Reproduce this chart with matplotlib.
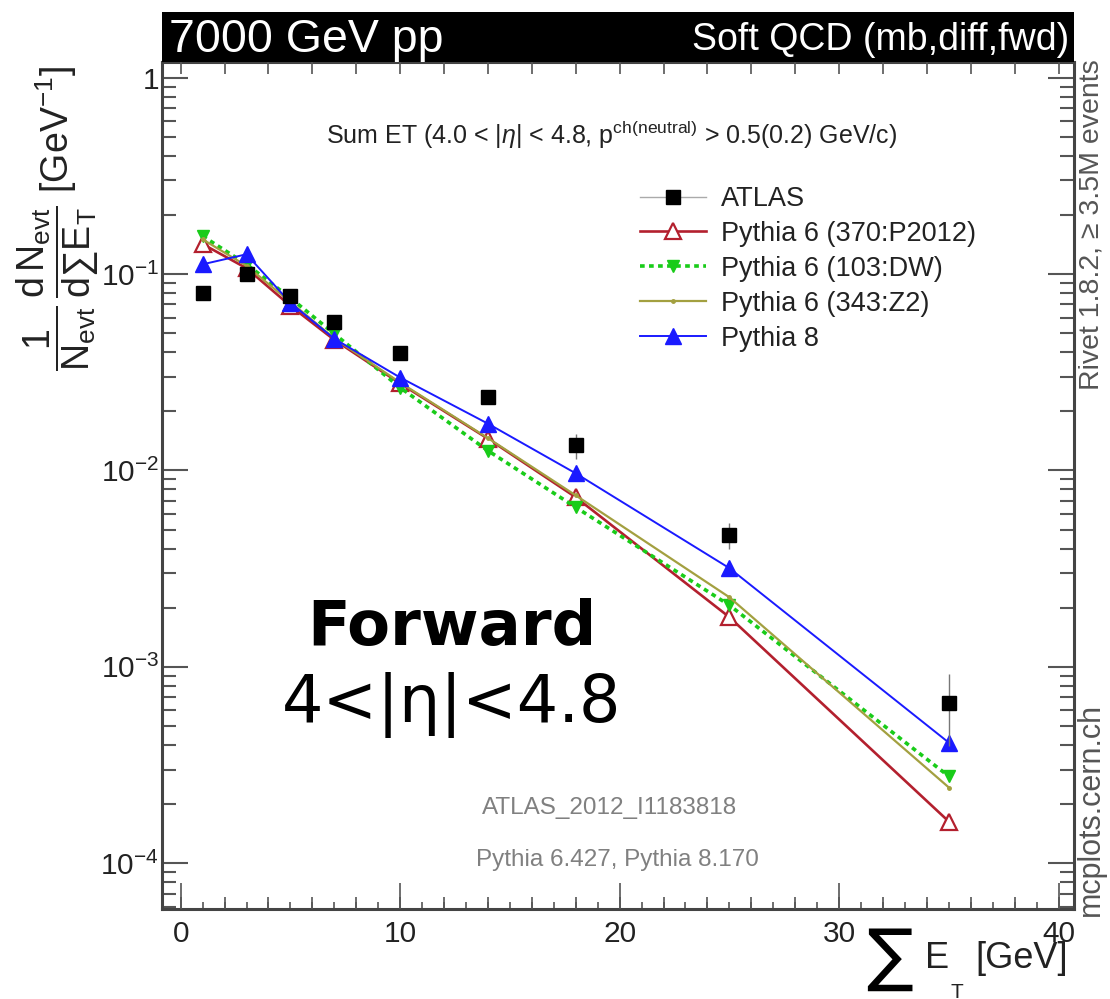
import matplotlib
matplotlib.use("Agg")
import matplotlib.pyplot as plt
from matplotlib.lines import Line2D
from matplotlib.ticker import LogLocator, NullFormatter, FixedLocator, MultipleLocator
import numpy as np

plt.rcParams['font.family'] = ['Liberation Sans', 'DejaVu Sans']
plt.rcParams['mathtext.fontset'] = 'custom'
plt.rcParams['mathtext.rm'] = 'Liberation Sans'
plt.rcParams['mathtext.it'] = 'Liberation Sans:italic'
plt.rcParams['mathtext.bf'] = 'Liberation Sans:bold'

# ---- data ----
sumet = [1, 3, 5, 7, 10, 14, 18, 25, 35]
atlas = [0.080, 0.100, 0.077, 0.057, 0.0397, 0.0237, 0.0134, 0.00468, 0.000656]
atlas_err = [0.002, 0.002, 0.0015, 0.001, 0.0008, 0.0006, 0.002, 0.0007, 0.00026]
p2012 = [0.142, 0.107, 0.0688, 0.0462, 0.0277, 0.0145, 0.0073, 0.00179, 0.000163]
dw = [0.156, 0.112, 0.0755, 0.0496, 0.0264, 0.0126, 0.00649, 0.00206, 0.000277]
z2 = [0.150, 0.110, 0.072, 0.047, 0.0280, 0.0146, 0.00746, 0.00226, 0.000243]
py8 = [0.112, 0.126, 0.0713, 0.0468, 0.0297, 0.0173, 0.00966, 0.00318, 0.000411]

labels = ["ATLAS", "Pythia 6 (370:P2012)", "Pythia 6 (103:DW)",
          "Pythia 6 (343:Z2)", "Pythia 8"]

W, H = 1110, 999
fig = plt.figure(figsize=(W / 100, H / 100), dpi=100)

def fx(px):
    return px / W

def fy(py):
    return 1 - py / H

ax_l, ax_r, ax_t, ax_b = 162, 1074, 62, 909
ax = fig.add_axes([fx(ax_l), fy(ax_b), fx(ax_r - ax_l), (ax_b - ax_t) / H])

c_red = '#b3202e'
c_green = '#19cc19'
c_olive = '#a3a040'
c_blue = '#1a1aff'

ax.plot(sumet, p2012, color=c_red, lw=1.9, marker='^', ms=12, mfc='white',
        mec=c_red, mew=1.6, zorder=3)
ax.plot(sumet, dw, color=c_green, lw=2.6, ls=(0, (1.3, 1.2)), marker='v', ms=9,
        mfc=c_green, mec=c_green, zorder=3)
ax.plot(sumet, z2, color=c_olive, lw=1.6, marker='o', ms=2.5, mfc=c_olive,
        mec=c_olive, zorder=3)
ax.plot(sumet, py8, color=c_blue, lw=1.4, marker='^', ms=11, mfc=c_blue,
        mec=c_blue, zorder=4)
ax.errorbar(sumet, atlas, yerr=atlas_err, fmt='s', color='black', ms=10.5,
            ecolor='#777777', elinewidth=1.0, capsize=0, zorder=5)

ax.set_yscale('log')
ax.set_xlim(-0.85, 40.7)
ax.set_ylim(5.85e-5, 1.2)

ax.xaxis.set_major_locator(FixedLocator([0, 10, 20, 30, 40]))
ax.xaxis.set_minor_locator(MultipleLocator(1))
ax.yaxis.set_major_locator(LogLocator(base=10, numticks=10))
ax.yaxis.set_minor_locator(LogLocator(base=10, subs=np.arange(2, 10), numticks=20))
ax.yaxis.set_minor_formatter(NullFormatter())

def yfmt(v, pos):
    e = int(round(np.log10(v)))
    if e == 0:
        return '1'
    return r'$10^{%d}$' % e

ax.yaxis.set_major_formatter(plt.FuncFormatter(yfmt))

tick_c = '#555555'
ax.tick_params(axis='both', which='both', direction='in', top=True, right=True,
               colors=tick_c, labelcolor='#222222', labelsize=21.5)
ax.tick_params(axis='y', which='major', length=19, width=1.5, pad=2)
ax.tick_params(axis='y', which='minor', length=10, width=1.5)
ax.tick_params(axis='x', which='major', length=19, width=1.2, pad=8)
ax.tick_params(axis='x', which='minor', length=5, width=1.2)
for s in ax.spines.values():
    s.set_color('#444444')
    s.set_linewidth(2.2)

# secondary medium ticks at even values
ax2 = ax.twiny()
ax2.set_xlim(ax.get_xlim())
ax2.xaxis.set_major_locator(MultipleLocator(2))
ax2.xaxis.set_ticks_position('both')
ax2.tick_params(axis='x', which='major', direction='in', length=8.5, width=1.2,
                colors=tick_c, labelbottom=False, labeltop=False)
ax2.tick_params(axis='x', which='minor', length=0)
for s in ax2.spines.values():
    s.set_visible(False)

# legend
handles = [
    Line2D([], [], color='#aaaaaa', lw=1.0, marker='s', ms=10, mfc='black', mec='black'),
    Line2D([], [], color=c_red, lw=1.9, marker='^', ms=12, mfc='white', mec=c_red, mew=1.6),
    Line2D([], [], color=c_green, lw=2.6, ls=(0, (1.3, 1.2)), marker='v', ms=9, mfc=c_green, mec=c_green),
    Line2D([], [], color=c_olive, lw=1.6, marker='o', ms=2.5, mfc=c_olive, mec=c_olive),
    Line2D([], [], color=c_blue, lw=1.4, marker='^', ms=11, mfc=c_blue, mec=c_blue),
]
leg = fig.legend(handles, labels, loc='upper left', bbox_to_anchor=(fx(640), fy(186)),
                 frameon=False, fontsize=19.5, handlelength=2.45, labelspacing=0.33,
                 handletextpad=0.55, borderpad=0, borderaxespad=0)
for t in leg.get_texts():
    t.set_color('#222222')

# title bar
bar = fig.add_axes([fx(ax_l), fy(ax_t), fx(ax_r - ax_l), (ax_t - 12) / H])
bar.set_facecolor('black')
bar.set_xticks([])
bar.set_yticks([])
for s in bar.spines.values():
    s.set_visible(False)
bar.text(0.008, 0.45, "7000 GeV pp", color='white', fontsize=33.5, ha='left',
         va='center', transform=bar.transAxes)
bar.text(0.995, 0.45, "Soft QCD (mb,diff,fwd)", color='white', fontsize=27,
         ha='right', va='center', transform=bar.transAxes)

# texts inside
fig.text(fx(612), fy(135), r"Sum ET (4.0 < |$\eta$| < 4.8, p$^{\mathrm{ch(neutral)}}$ > 0.5(0.2) GeV/c)",
         fontsize=18, ha='center', va='center', color='#222222')
fig.text(fx(610), fy(808), "ATLAS_2012_I1183818", fontsize=17.5, ha='center',
         va='center', color='#808080')
fig.text(fx(617), fy(860), "Pythia 6.427, Pythia 8.170", fontsize=17.5, ha='center',
         va='center', color='#808080')

fig.text(fx(452), fy(645), "Forward", family='DejaVu Sans', fontweight='bold',
         fontsize=45, ha='center', va='baseline', color='black')
fig.text(fx(452), fy(722), "4<|η|<4.8", family='DejaVu Sans', fontsize=47,
         ha='center', va='baseline', color='black')

# right side rotated texts
fig.text(fx(1091), fy(225), "Rivet 1.8.2, \u2265 3.5M events", rotation=90,
         fontsize=20.5, ha='center', va='center', color='#555555')
fig.text(fx(1091), fy(809), "mcplots.cern.ch", rotation=90, fontsize=22,
         ha='center', va='center', color='#555555')

# y label
fig.text(fx(58), fy(218),
         r"$\dfrac{1}{\mathrm{N}_{\mathrm{evt}}}\,\dfrac{\mathrm{d}\,\mathrm{N}_{\mathrm{evt}}}{\mathrm{d}\sum \mathrm{E}_{\mathrm{T}}}$ [GeV$^{-1}$]",
         rotation=90, fontsize=27, ha='center', va='center', color='#222222')

# x label
fig.text(fx(890), fy(978), "\u2211", family='DejaVu Sans', fontsize=50,
         ha='center', va='baseline', color='black')
fig.text(fx(937), fy(968), "E", fontsize=26, ha='center', va='baseline', color='#222222')
fig.text(fx(957), fy(998), "T", fontsize=15, ha='center', va='baseline', color='#222222')
fig.text(fx(1022), fy(968), "[GeV]", fontsize=26, ha='center', va='baseline', color='#222222')

fig.savefig("out.png", dpi=100)
